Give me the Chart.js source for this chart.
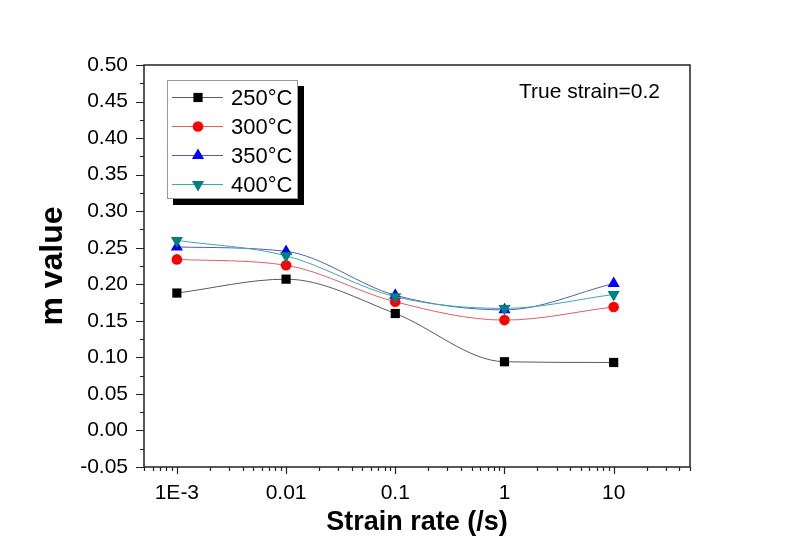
<!DOCTYPE html>
<html><head><meta charset="utf-8">
<script src="https://cdn.jsdelivr.net/npm/chart.js@4.4.1/dist/chart.umd.min.js"></script>
<style>html,body{margin:0;padding:0;background:#fff;}canvas{display:block;}</style>
</head><body>
<canvas id="c" width="802" height="560"></canvas>
<script>
// ---- data ----
const strainRates = [0.001, 0.01, 0.1, 1, 10];
const m250 = [0.188, 0.207, 0.160, 0.094, 0.093];
const m300 = [0.234, 0.226, 0.176, 0.151, 0.169];
const m350 = [0.251, 0.245, 0.185, 0.165, 0.201];
const m400 = [0.260, 0.239, 0.183, 0.167, 0.186];
const seriesLabels = ['250°C', '300°C', '350°C', '400°C'];
const xMajorTicks = [0.001, 0.01, 0.1, 1, 10];
const xTickLabels = ['1E-3', '0.01', '0.1', '1', '10'];
const yTicks = [-0.05, 0.00, 0.05, 0.10, 0.15, 0.20, 0.25, 0.30, 0.35, 0.40, 0.45, 0.50];
const yTickLabels = ['-0.05', '0.00', '0.05', '0.10', '0.15', '0.20', '0.25', '0.30', '0.35', '0.40', '0.45', '0.50'];
const annotationText = 'True strain=0.2';
const xTitle = 'Strain rate (/s)';
const yTitle = 'm value';

// ---- axis tick positions (styling) ----
const xMin = 0.0005, xMax = 50;
const xAllTicks = [];
[1e-4, 1e-3, 1e-2, 1e-1, 1, 10].forEach(base => {
  for (let k = 1; k <= 9; k++) {
    const v = +(k * base).toPrecision(6);
    if (v >= xMin - 1e-12 && v <= xMax + 1e-9) xAllTicks.push(v);
  }
});
const yAllTicks = [];
yTicks.forEach((v, i) => {
  yAllTicks.push({ value: v, major: true });
  if (i < yTicks.length - 1) yAllTicks.push({ value: (v + yTicks[i + 1]) / 2, major: false });
});

const FONT = '"Liberation Sans", Arial, sans-serif';
const styles = [
  { line: '#5a5a5a', fill: '#000000', pointStyle: 'rect', radius: 6.5, rotation: 0 },
  { line: '#e06060', fill: '#ff0000', pointStyle: 'circle', radius: 5.3, rotation: 0 },
  { line: '#5a5ab8', fill: '#0000ff', pointStyle: 'triangle', radius: 7, rotation: 0 },
  { line: '#40a8a8', fill: '#008080', pointStyle: 'triangle', radius: 7, rotation: 180 }
];
const seriesValues = [m250, m300, m350, m400];

const datasets = seriesValues.map((vals, s) => ({
  label: seriesLabels[s],
  data: strainRates.map((x, i) => ({ x: x, y: vals[i] })),
  borderColor: styles[s].line,
  borderWidth: 1,
  backgroundColor: styles[s].fill,
  pointBackgroundColor: styles[s].fill,
  pointBorderColor: styles[s].fill,
  pointBorderWidth: 0,
  pointRadius: styles[s].radius,
  pointStyle: styles[s].pointStyle,
  pointRotation: styles[s].rotation,
  cubicInterpolationMode: 'monotone',
  fill: false,
  order: 4 - s
}));

const framePlugin = {
  id: 'frameTicks',
  beforeDatasetsDraw(chart) {
    const { ctx, chartArea: a, scales } = chart;
    ctx.save();
    ctx.strokeStyle = '#222';
    ctx.lineWidth = 1.5;
    ctx.strokeRect(a.left, a.top, a.right - a.left, a.bottom - a.top);
    ctx.lineWidth = 1.2;
    ctx.beginPath();
    scales.x.ticks.forEach(t => {
      const px = Math.round(scales.x.getPixelForValue(t.value)) + 0.5;
      const len = t.major ? 7 : 4;
      ctx.moveTo(px, a.bottom); ctx.lineTo(px, a.bottom + len);
    });
    scales.y.ticks.forEach(t => {
      const py = Math.round(scales.y.getPixelForValue(t.value)) + 0.5;
      const len = t.major ? 8 : 4;
      ctx.moveTo(a.left, py); ctx.lineTo(a.left - len, py);
    });
    ctx.stroke();
    ctx.restore();
  },
  afterDraw(chart) {
    const { ctx, chartArea: a } = chart;
    ctx.save();
    // annotation
    ctx.fillStyle = '#000';
    ctx.font = '21px ' + FONT;
    ctx.textAlign = 'left';
    ctx.textBaseline = 'alphabetic';
    ctx.fillText(annotationText, a.right - 171, a.top + 32.5);
    // legend
    const bx = a.left + 23, by = a.top + 15, bw = 130, bh = 118;
    ctx.fillStyle = '#000';
    ctx.fillRect(bx + 6, by + 6, bw + 1, bh + 1);
    ctx.fillStyle = '#fff';
    ctx.fillRect(bx, by, bw, bh);
    ctx.strokeStyle = '#999';
    ctx.lineWidth = 1;
    ctx.strokeRect(bx + 0.5, by + 0.5, bw, bh);
    chart.data.datasets.forEach((ds, i) => {
      const y = by + 17.5 + i * 29;
      ctx.strokeStyle = styles[i].line;
      ctx.lineWidth = 1;
      ctx.beginPath();
      ctx.moveTo(bx + 5, y); ctx.lineTo(bx + 56, y);
      ctx.stroke();
      ctx.fillStyle = styles[i].fill;
      Chart.helpers.drawPoint(ctx, {
        pointStyle: styles[i].pointStyle, rotation: styles[i].rotation,
        radius: styles[i].radius, borderWidth: 0
      }, bx + 31, y);
      ctx.fillStyle = '#000';
      ctx.font = '22px ' + FONT;
      ctx.textBaseline = 'middle';
      ctx.fillText(ds.label, bx + 64, y + 1);
    });
    ctx.restore();
  }
};

new Chart(document.getElementById('c'), {
  type: 'line',
  data: { datasets },
  plugins: [framePlugin],
  options: {
    responsive: false,
    animation: false,
    events: [],
    layout: { padding: { left: 0, right: 112, top: 65, bottom: 0 } },
    plugins: { legend: { display: false }, tooltip: { enabled: false } },
    scales: {
      x: {
        type: 'logarithmic',
        min: xMin, max: xMax,
        grid: { display: false, drawTicks: false },
        border: { display: false },
        afterBuildTicks: s => { s.ticks = xAllTicks.map(v => ({ value: v, major: xMajorTicks.includes(v) })); },
        afterFit: s => { s.height = 93; },
        ticks: {
          autoSkip: false, maxRotation: 0, padding: 14,
          color: '#000', font: { family: FONT, size: 21 },
          callback: v => { const i = xMajorTicks.indexOf(v); return i >= 0 ? xTickLabels[i] : ''; }
        },
        title: { display: true, text: xTitle, color: '#000',
          font: { family: FONT, size: 27, weight: 'bold' }, padding: { top: 0, bottom: 21 } }
      },
      y: {
        type: 'linear',
        min: -0.05, max: 0.5,
        grid: { display: false, drawTicks: false },
        border: { display: false },
        afterBuildTicks: s => { s.ticks = yAllTicks.map(t => ({ value: t.value, major: t.major })); },
        afterFit: s => { s.width = 144; },
        ticks: {
          autoSkip: false, padding: 16,
          color: '#000', font: { family: FONT, size: 21 },
          callback: v => { const i = yTicks.findIndex(t => Math.abs(t - v) < 1e-9); return i >= 0 ? yTickLabels[i] : ''; }
        },
        title: { display: true, text: yTitle, color: '#000',
          font: { family: FONT, size: 32, weight: 'bold' }, padding: { top: 34, bottom: 0 } }
      }
    }
  }
});
</script>
</body></html>
